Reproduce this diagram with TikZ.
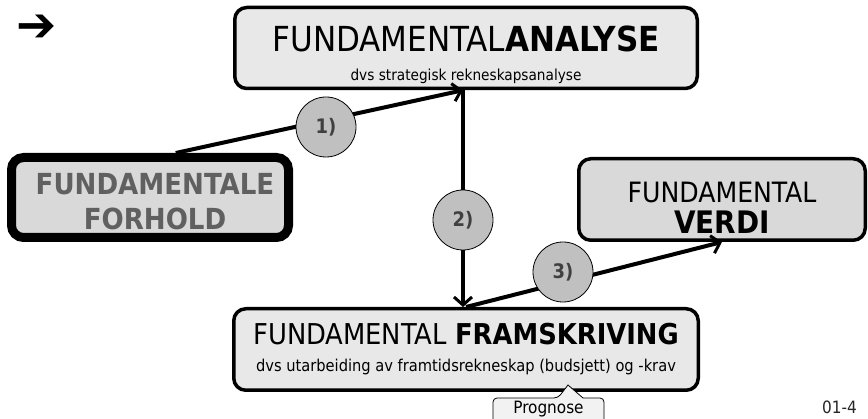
\documentclass[tikz,border=0pt]{standalone}
\usepackage{fontspec}
\setmainfont{DejaVu Sans Condensed}
\newfontfamily\symfont{DejaVu Sans}
\usetikzlibrary{arrows.meta,calc}

\definecolor{boxlight}{HTML}{E8E8E8}
\definecolor{boxmid}{HTML}{D9D9D9}
\definecolor{circfill}{HTML}{C0C0C0}
\definecolor{numgray}{HTML}{404040}
\definecolor{forholdgray}{HTML}{606060}
\definecolor{notefill}{HTML}{F2F2F2}

\tikzset{
  stepbox/.style={draw, rounded corners=12pt, line width=3.5pt, align=center, inner sep=0pt},
  numcirc/.style={circle, draw, line width=0.8pt, fill=circfill, minimum size=60pt, inner sep=0pt,
    text=numgray, font=\fontsize{20}{22}\selectfont\bfseries},
  flow/.style={line width=4pt, -{Straight Barb[length=8pt,width=18pt,line width=3pt]}},
}

\begin{document}
\begin{tikzpicture}[x=1pt,y=-1pt]
        \useasboundingbox (0,0) rectangle (868,419);

        % the small arrow in the corner
        \node (mark) at (37,28) {\symfont\fontsize{48}{48}\selectfont ➔};

        % boxes
        \node[stepbox, fill=boxlight, minimum width=462.5pt, minimum height=81pt,
            font=\fontsize{34.5}{29}\selectfont] (analyse) at (466,48)
            {\rule{0pt}{39pt}FUNDAMENTAL\textbf{ANALYSE}\\
             {\fontsize{15.2}{16}\selectfont dvs strategisk rekneskapsanalyse}};
        \node[stepbox, fill=boxmid, line width=9pt, minimum width=277pt, minimum height=80pt,
            text=forholdgray, font=\fontsize{29}{34.5}\selectfont\bfseries] (forhold) at (150,197.5)
            {\rule{0pt}{29.5pt}\hspace{10pt}FUNDAMENTALE\\\hspace{10pt}FORHOLD};
        \node[stepbox, fill=boxmid, minimum width=286.5pt, minimum height=81.5pt,
            font=\fontsize{28}{31}\selectfont] (verdi) at (722,199.5)
            {\rule{0pt}{38pt}FUNDAMENTAL\\{\fontsize{31}{31}\selectfont\bfseries VERDI}};
        \node[stepbox, fill=boxlight, minimum width=464.5pt, minimum height=81.5pt,
            font=\fontsize{28.7}{27}\selectfont] (framskriving) at (466,349.5)
            {FUNDAMENTAL \textbf{FRAMSKRIVING}\\
             {\fontsize{16.3}{17}\selectfont dvs utarbeiding av framtidsrekneskap (budsjett) og -krav}};

        %connectors
        \coordinate (hub) at ($(analyse.south west)!0.4935!(analyse.south east)$);
        \draw[flow] ($(forhold.north west)!0.59!(forhold.north east)$) -- (hub);
        \draw[flow] (hub) -- (hub |- framskriving.north);
        \draw[flow] (framskriving.north) -- (verdi.south);

        % numbered circles
        \node[numcirc] (n1) at (326,127) {1)};
        \node[numcirc] (n2) at (463,220) {2)};
        \node[numcirc] (n3) at (563,272) {3)};

        % note below the lower box
        \draw[line width=0.8pt, fill=notefill, rounded corners=4pt]
            (493,440) -- (493,398) -- (558,398) [sharp corners] -- (568,385) -- (583,398)
            [rounded corners=4pt] -- (604,398) -- (604,440);
        \node[anchor=base, inner sep=0pt, font=\fontsize{17}{17}\selectfont] (prognose) at (548.5,414) {Prognose};

        % page number
        \node[anchor=base west, inner sep=0pt, font=\fontsize{17}{17}\selectfont, text=black!85] (page) at (822,414) {01-4};
\end{tikzpicture}
\end{document}
